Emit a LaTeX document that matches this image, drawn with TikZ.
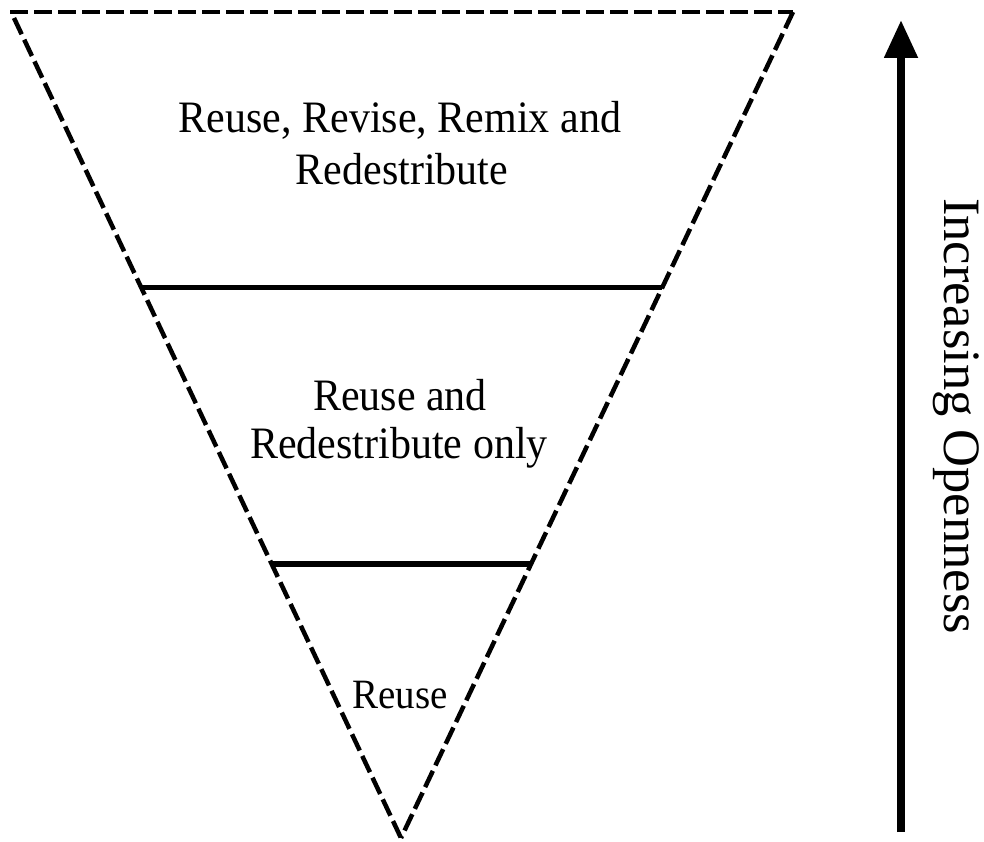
\documentclass[tikz,border=0pt]{standalone}
\usepackage{fontspec}
\setmainfont{Liberation Serif}
\usetikzlibrary{arrows.meta,calc}
\newcommand{\tallr}[1]{\scalebox{1}[1.07]{#1}}
\begin{document}
\begin{tikzpicture}[x=1pt,y=-1pt,
  edge/.style={line width=4.5pt,dash pattern=on 18pt off 6pt},
  divider/.style={line width=5pt},
  lbl/.style={anchor=base,inner sep=0pt,font=\fontsize{42}{50}\selectfont},
  small/.style={anchor=base,inner sep=0pt,font=\fontsize{39}{46}\selectfont},
  side/.style={anchor=base,inner sep=0pt,rotate=-90,font=\fontsize{52.5}{60}\selectfont},
  arr/.style={line width=8pt,-{Triangle[width=32pt,length=38pt]}}]
\useasboundingbox (0,0) rectangle (984,842);
\coordinate (tl) at (12,12);
\coordinate (tr) at (793,12);
\coordinate (apex) at (401,838);
\draw[edge] ($(tl)+(-2,0)$) -- (tr);
\draw[edge] ($(tl)+(2,6)$) -- (apex);
\draw[edge] (tr) -- (apex);
\coordinate (l1) at ($(tl)!0.333!(apex)$);
\coordinate (r1) at ($(tr)!0.333!(apex)$);
\coordinate (l2) at ($(tl)!0.6685!(apex)$);
\coordinate (r2) at ($(tr)!0.6685!(apex)$);
\draw[divider] (l1) -- (r1);
\draw[divider,line width=5.5pt] (l2) -- (r2);
\node[lbl] (a1) at (400,133) {\tallr{Reuse, Revise, Remix and}};
\node[lbl] (a2) at (402,185) {\tallr{Redestribute}};
\node[lbl] (b1) at (400,410) {\tallr{Reuse and}};
\node[lbl] (b2) at (399,458) {\tallr{Redestribute only}};
\node[small] (c1) at (400,708) {\tallr{Reuse}};
\coordinate (abot) at (901,832);
\coordinate (atop) at (901,20);
\draw[arr] (abot) -- (atop);
\node[side] (s) at (944,416) {Increasing Openness};
\end{tikzpicture}
\end{document}
